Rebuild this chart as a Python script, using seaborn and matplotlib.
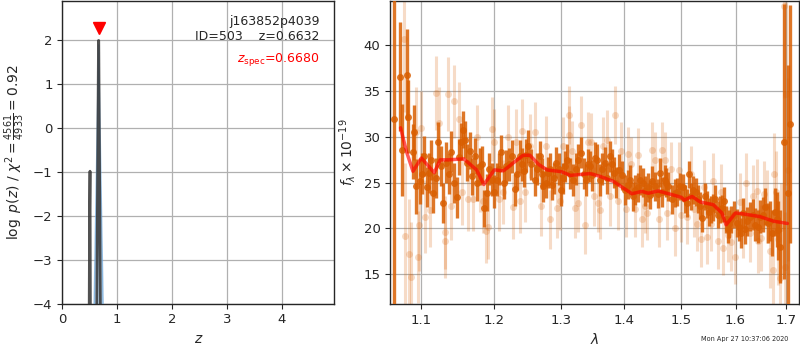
import numpy as np
import pandas as pd
import matplotlib
matplotlib.use("Agg")
import matplotlib.pyplot as plt
import seaborn as sns
from matplotlib.ticker import FixedLocator, FixedFormatter, NullLocator

sns.set_style("ticks")
plt.rcParams['font.family'] = ['DejaVu Sans']
plt.rcParams['axes.linewidth'] = 1.0

# ---------------- left panel: log p(z) ----------------
pz_z = [0.40, 0.47, 0.490, 0.498, 0.505, 0.512, 0.53, 0.58, 0.628, 0.660, 0.664, 0.695, 0.74, 0.80]
pz_logp = [-20.0, -8.0, -4.2, -1.8, -0.98, -4.2, -9.0, -12.0, -4.2, 2.0, 2.0, -4.2, -10.0, -20.0]
pz2_z = [0.55, 0.662, 0.775]
pz2_logp = [-6.2, 1.9, -6.2]

z_best = 0.6632
z_spec = 0.6680
obj_name = "j163852p4039"
obj_id = 503
chi2_num, chi2_den = 4561, 4933

# ---------------- right panel: spectrum ----------------
dark_wave = [1.065, 1.072, 1.075, 1.081, 1.083, 1.089, 1.090, 1.093, 1.098, 1.104,
             1.110, 1.116, 1.122, 1.129, 1.133, 1.140, 1.148, 1.153, 1.156, 1.159,
             1.161, 1.168, 1.172, 1.179, 1.185, 1.190, 1.196, 1.204, 1.210, 1.217,
             1.225, 1.230, 1.237, 1.243, 1.249, 1.254, 1.259, 1.267, 1.272, 1.279,
             1.286, 1.292, 1.299, 1.305, 1.309, 1.318, 1.326, 1.331, 1.338, 1.345,
             1.353, 1.357, 1.361, 1.369, 1.377, 1.384, 1.392, 1.402, 1.411, 1.419,
             1.428, 1.436, 1.445, 1.453, 1.462, 1.470, 1.477, 1.483, 1.488, 1.497,
             1.506, 1.514, 1.521, 1.530, 1.538, 1.546, 1.554, 1.561, 1.570, 1.578,
             1.585, 1.592, 1.602, 1.610, 1.614, 1.618, 1.628, 1.638, 1.648, 1.658,
             1.664, 1.672, 1.681, 1.688, 1.696, 1.703, 1.708,
             1.101, 1.107, 1.113, 1.119, 1.126, 1.137, 1.144, 1.150, 1.165, 1.176,
             1.182, 1.193, 1.200, 1.207, 1.214, 1.221, 1.233, 1.240, 1.246, 1.262,
             1.270, 1.276, 1.283, 1.289, 1.296, 1.302, 1.313, 1.322, 1.335, 1.342,
             1.349, 1.365, 1.373, 1.380, 1.388, 1.397, 1.407, 1.415, 1.424, 1.432,
             1.441, 1.449, 1.458, 1.466, 1.473, 1.492, 1.502, 1.510, 1.517, 1.526,
             1.534, 1.542, 1.550, 1.558, 1.566, 1.574, 1.581, 1.588, 1.597, 1.606,
             1.622, 1.633, 1.643, 1.653, 1.668, 1.677, 1.684]
dark_flux = [32.0, 36.6, 28.6, 36.8, 32.2, 28.4, 30.5, 24.6, 25.2, 27.9,
             26.1, 23.9, 29.4, 22.8, 27.2, 28.4, 23.4, 29.5, 30.8, 29.7,
             27.2, 25.7, 27.9, 26.8, 22.2, 23.9, 25.3, 25.3, 28.4, 26.8,
             27.9, 24.3, 27.9, 26.3, 29.0, 27.0, 25.3, 27.9, 24.6, 26.1,
             24.8, 27.2, 24.2, 26.8, 27.5, 25.3, 27.5, 28.3, 25.3, 26.8,
             27.7, 27.5, 25.3, 27.2, 27.9, 26.1, 26.4, 24.2, 25.3, 24.2,
             25.3, 24.1, 23.7, 24.6, 26.1, 25.3, 24.6, 23.2, 23.9, 24.6,
             23.2, 25.9, 24.2, 23.2, 21.1, 22.6, 22.1, 23.2, 22.1, 23.0,
             19.9, 21.0, 20.6, 19.5, 21.7, 19.9, 21.3, 20.4, 21.3, 22.4,
             20.6, 19.5, 21.0, 18.0, 29.5, 23.9, 31.4,
             26.0, 24.5, 27.5, 25.5, 26.8, 26.0, 25.0, 27.8, 28.5, 25.0,
             27.0, 26.5, 24.0, 26.5, 25.0, 27.0, 26.0, 27.0, 28.0, 26.5,
             26.0, 25.0, 26.5, 25.5, 26.5, 25.5, 26.0, 26.5, 26.0, 27.0,
             25.8, 26.5, 25.5, 27.0, 25.0, 25.8, 24.8, 23.5, 24.5, 25.0,
             24.5, 25.2, 23.8, 24.0, 25.0, 24.0, 24.5, 22.8, 23.5, 24.0,
             22.5, 23.5, 21.8, 22.3, 21.5, 22.2, 21.0, 20.5, 21.5, 20.2,
             20.8, 21.5, 20.2, 21.5, 20.8, 21.8, 19.8]
dark_err = [22.0, 6.0, 5.0, 5.0, 4.0, 3.0, 3.0, 3.0, 2.5, 2.2,
            2.2, 2.2, 2.2, 2.2, 2.2, 2.2, 2.2, 2.0, 2.0, 2.0,
            2.0, 2.0, 2.0, 2.0, 2.0, 2.0, 1.8, 1.8, 1.8, 1.8,
            1.8, 1.8, 1.8, 1.8, 1.8, 1.7, 1.7, 1.7, 1.7, 1.7,
            1.7, 1.7, 1.7, 1.7, 1.7, 1.7, 1.7, 1.7, 1.7, 1.7,
            1.7, 1.7, 1.7, 1.7, 1.7, 1.7, 1.7, 1.6, 1.6, 1.6,
            1.6, 1.6, 1.6, 1.6, 1.6, 1.6, 1.6, 1.6, 1.5, 1.5,
            1.5, 1.5, 1.5, 1.5, 1.5, 1.5, 1.5, 1.5, 1.5, 1.5,
            1.5, 1.5, 1.5, 1.6, 1.6, 1.6, 1.6, 1.8, 1.8, 2.0,
            2.2, 2.5, 3.0, 4.0, 15.0, 14.0, 13.0,
            2.2, 2.2, 2.2, 2.2, 2.2, 2.2, 2.2, 2.0, 2.0, 2.0,
            2.0, 1.8, 1.8, 1.8, 1.8, 1.8, 1.8, 1.8, 1.8, 1.7,
            1.7, 1.7, 1.7, 1.7, 1.7, 1.7, 1.7, 1.7, 1.7, 1.7,
            1.7, 1.7, 1.7, 1.7, 1.7, 1.6, 1.6, 1.6, 1.6, 1.6,
            1.6, 1.6, 1.6, 1.6, 1.6, 1.5, 1.5, 1.5, 1.5, 1.5,
            1.5, 1.5, 1.5, 1.5, 1.5, 1.5, 1.5, 1.5, 1.5, 1.6,
            1.6, 1.7, 1.8, 1.9, 2.2, 2.6, 3.2]

light_wave = [1.0775, 1.079, 1.0834, 1.087, 1.093, 1.095, 1.097, 1.105, 1.120, 1.131,
              1.132, 1.135, 1.144, 1.151, 1.163, 1.170, 1.179, 1.188, 1.191, 1.196,
              1.206, 1.213, 1.227, 1.237, 1.240, 1.252, 1.283, 1.293, 1.303, 1.311,
              1.312, 1.321, 1.331, 1.337, 1.347, 1.358, 1.361, 1.372, 1.386, 1.390,
              1.404, 1.407, 1.419, 1.431, 1.440, 1.448, 1.460, 1.465, 1.475, 1.489,
              1.495, 1.510, 1.522, 1.535, 1.547, 1.558, 1.566, 1.577, 1.586, 1.599,
              1.609, 1.621, 1.628, 1.641, 1.644, 1.661, 1.667, 1.674, 1.676, 1.684,
              1.688, 1.696, 1.697, 1.699, 1.704,
              1.100, 1.112, 1.124, 1.140, 1.155, 1.175, 1.184, 1.200, 1.219, 1.231,
              1.245, 1.260, 1.268, 1.276, 1.298, 1.316, 1.326, 1.342, 1.352, 1.366,
              1.378, 1.395, 1.412, 1.425, 1.436, 1.453, 1.470, 1.482, 1.500, 1.517,
              1.528, 1.540, 1.553, 1.572, 1.592, 1.615, 1.634, 1.650, 1.656, 1.680,
              1.690]
light_flux = [40.7, 19.2, 17.2, 14.7, 30.5, 16.9, 20.4, 21.3, 34.8, 19.6,
              18.6, 34.7, 33.9, 32.0, 23.2, 23.2, 25.3, 19.7, 20.2, 30.9,
              23.2, 24.0, 22.4, 23.0, 30.6, 29.0, 21.0, 22.2, 29.0, 32.4,
              30.2, 22.2, 31.3, 20.4, 29.4, 22.8, 22.0, 29.7, 32.4, 23.0,
              22.1, 28.1, 22.1, 21.0, 21.7, 28.6, 21.0, 28.6, 21.7, 20.0,
              26.4, 21.3, 22.1, 18.8, 19.1, 25.2, 18.6, 17.9, 19.3, 16.9,
              22.9, 25.0, 19.5, 24.1, 18.6, 22.4, 17.5, 15.5, 25.9, 18.8,
              14.6, 44.3, 15.8, 34.7, 26.4,
              31.0, 22.0, 31.5, 22.5, 24.0, 30.0, 23.0, 29.5, 30.0, 29.5,
              24.0, 30.5, 22.5, 29.0, 23.0, 28.5, 22.8, 29.5, 23.5, 29.0,
              23.5, 28.5, 27.0, 28.0, 22.5, 27.5, 27.5, 26.5, 21.5, 26.0,
              20.5, 24.5, 20.5, 24.0, 18.5, 20.0, 23.5, 19.0, 23.8, 24.0,
              20.0]
light_err = [8.0, 8.0, 6.0, 6.0, 5.0, 5.0, 5.0, 4.0, 4.0, 4.0,
             4.0, 4.0, 4.0, 4.0, 3.5, 3.5, 3.5, 3.5, 3.5, 3.5,
             3.5, 3.5, 3.5, 3.5, 3.5, 3.5, 3.2, 3.2, 3.2, 3.2,
             3.2, 3.2, 3.2, 3.2, 3.2, 3.2, 3.2, 3.2, 3.2, 3.2,
             3.0, 3.0, 3.0, 3.0, 3.0, 3.0, 3.0, 3.0, 3.0, 3.0,
             3.0, 3.0, 3.0, 3.0, 3.0, 3.0, 3.0, 3.0, 3.0, 3.0,
             3.2, 3.2, 3.2, 3.5, 3.5, 4.0, 4.0, 4.5, 4.5, 5.0,
             5.0, 10.0, 6.0, 10.0, 10.0,
             4.0, 4.0, 4.0, 3.8, 3.6, 3.5, 3.5, 3.5, 3.5, 3.5,
             3.3, 3.3, 3.3, 3.3, 3.2, 3.2, 3.2, 3.2, 3.2, 3.2,
             3.2, 3.1, 3.0, 3.0, 3.0, 3.0, 3.0, 3.0, 3.0, 3.0,
             3.0, 3.0, 3.0, 3.0, 3.1, 3.2, 3.4, 3.6, 3.6, 4.5,
             5.0]

model_wave = [1.073, 1.081, 1.089, 1.100, 1.117, 1.125, 1.136, 1.157, 1.175, 1.185,
              1.200, 1.213, 1.228, 1.242, 1.252, 1.265, 1.278, 1.300, 1.314, 1.345,
              1.361, 1.383, 1.400, 1.414, 1.431, 1.442, 1.459, 1.480, 1.500, 1.505,
              1.519, 1.534, 1.558, 1.574, 1.582, 1.600, 1.614, 1.647, 1.674, 1.702]
model_flux = [31.0, 28.3, 26.25, 27.7, 26.1, 27.5, 27.5, 27.6, 26.4, 24.8,
              26.4, 26.3, 27.2, 28.0, 28.0, 27.0, 26.4, 26.2, 25.8, 26.0,
              25.7, 25.15, 24.4, 23.8, 24.05, 23.85, 24.1, 23.75, 23.4, 23.1,
              23.5, 22.9, 22.6, 21.7, 20.4, 21.7, 21.6, 21.3, 20.8, 20.55]

wave_ticks = [1.1, 1.2, 1.3, 1.4, 1.5, 1.6, 1.7]
flux_ticks = [15, 20, 25, 30, 35, 40]
z_ticks = [0, 1, 2, 3, 4]
logp_ticks = [-4, -3, -2, -1, 0, 1, 2]
timestamp = "Mon Apr 27 10:37:06 2020"

orange = '#d95f02'
grid_kw = dict(color='#b0b0b0', lw=0.9)

fig = plt.figure(figsize=(8, 3.5), dpi=100)
ax1 = fig.add_axes([0.0779, 0.1323, 0.3400, 0.8648])
ax2 = fig.add_axes([0.4879, 0.1314, 0.5110, 0.8657])

# ---- left ----
pz2 = pd.DataFrame({'z': pz2_z, 'logp': pz2_logp})
ax1.fill_between(pz2['z'], pz2['logp'], -20, color='#a9cbe9', alpha=0.8, lw=0, zorder=2)
sns.lineplot(data=pz2, x='z', y='logp', ax=ax1, color='#5b9bd5', alpha=0.6, lw=1.0,
             sort=False, zorder=3)
pz = pd.DataFrame({'z': pz_z, 'logp': pz_logp})
sns.lineplot(data=pz, x='z', y='logp', ax=ax1, color='#333333', alpha=0.85, lw=2.0,
             sort=False, zorder=4)
ax1.plot([z_spec], [2.28], marker='v', color='red', ms=8, ls='none', zorder=5,
         clip_on=False)
ax1.set_xlim(0, 4.96)
ax1.set_ylim(-4, 2.9)
ax1.xaxis.set_major_locator(FixedLocator(z_ticks))
ax1.yaxis.set_major_locator(FixedLocator(logp_ticks))
ax1.grid(True, **grid_kw)
ax1.set_axisbelow(True)
ax1.set_xlabel('$z$', fontsize=10)
ax1.set_ylabel(r'$\log\ p(z)$' + ' / ' +
               r'$\chi^2=\frac{%d}{%d}=%.2f$' % (chi2_num, chi2_den, chi2_num / chi2_den),
               fontsize=10)
ax1.text(0.945, 0.955, '%s\nID=%d    z=%.4f' % (obj_name, obj_id, z_best),
         ha='right', va='top', transform=ax1.transAxes, fontsize=9, linespacing=1.25)
ax1.text(0.945, 0.835, r'$z_\mathrm{spec}$=%.4f' % z_spec, color='red',
         ha='right', va='top', transform=ax1.transAxes, fontsize=9)
ax1.tick_params(labelsize=9.5, direction='out', length=3.5)

# ---- right ----
ax2.set_xscale('log')
ax2.errorbar(light_wave, light_flux, yerr=light_err, fmt='o', color=orange, alpha=0.22,
             ms=5, elinewidth=2.2, mew=0, zorder=2)
ax2.errorbar(dark_wave, dark_flux, yerr=dark_err, fmt='o', color=orange, alpha=0.85,
             ms=5, elinewidth=2.4, mew=0, zorder=3)
model = pd.DataFrame({'wave': model_wave, 'flux': model_flux})
sns.lineplot(data=model, x='wave', y='flux', ax=ax2, color='red', alpha=0.65, lw=2.5,
             sort=False, zorder=4)
ax2.set_xlim(1.06, 1.726)
ax2.set_ylim(11.75, 44.85)
ax2.xaxis.set_major_locator(FixedLocator(wave_ticks))
ax2.xaxis.set_major_formatter(FixedFormatter(['%.1f' % w for w in wave_ticks]))
ax2.xaxis.set_minor_locator(NullLocator())
ax2.yaxis.set_major_locator(FixedLocator(flux_ticks))
ax2.grid(True, **grid_kw)
ax2.set_axisbelow(True)
ax2.set_xlabel(r'$\lambda$', fontsize=10)
ax2.set_ylabel(r'$f_\lambda\times10^{-19}$', fontsize=10)
ax2.tick_params(labelsize=9.5, direction='out', length=3.5)

fig.text(0.985, 0.022, timestamp, ha='right', va='bottom', fontsize=4.7)

fig.savefig('out.png', dpi=100)
